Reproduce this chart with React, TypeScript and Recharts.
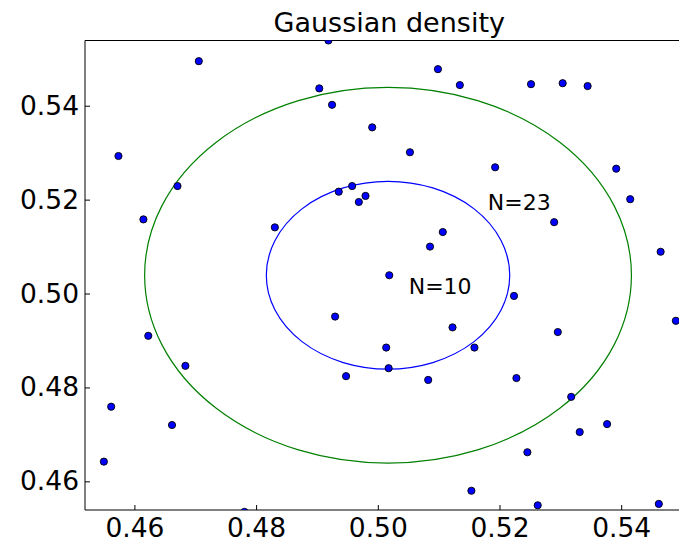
import React from 'react';
import {
  ScatterChart,
  Scatter,
  XAxis,
  YAxis,
  ReferenceArea,
  ReferenceDot,
  Label,
} from 'recharts';

// ---- data ----
const pointX = [
  0.4918, 0.4705, 0.4903, 0.4924, 0.4573, 0.467, 0.4614, 0.483, 0.4935, 0.5098,
  0.5134, 0.5251, 0.5303, 0.5344, 0.499, 0.5052, 0.5192, 0.5391, 0.5414, 0.4957,
  0.4979, 0.4968, 0.5289, 0.5106, 0.5085, 0.5464, 0.5018, 0.5223, 0.5489, 0.4929,
  0.4622, 0.5122, 0.5295, 0.5013, 0.5158, 0.5017, 0.4947, 0.5082, 0.5227, 0.4683,
  0.5317, 0.4561, 0.5376, 0.5331, 0.4661, 0.5245, 0.4549, 0.5153, 0.5262, 0.5461,
  0.478,
];
const pointY = [
  0.554, 0.5496, 0.5438, 0.5403, 0.5294, 0.523, 0.5159, 0.5142, 0.5218, 0.5479,
  0.5445, 0.5447, 0.5449, 0.5443, 0.5355, 0.5302, 0.527, 0.5267, 0.5202, 0.523,
  0.5209, 0.5196, 0.5153, 0.5132, 0.5101, 0.509, 0.504, 0.4996, 0.4943, 0.4952,
  0.4911, 0.4929, 0.4919, 0.4886, 0.4886, 0.4842, 0.4825, 0.4817, 0.4821, 0.4847,
  0.4781, 0.476, 0.4723, 0.4706, 0.4721, 0.4663, 0.4643, 0.4581, 0.455, 0.4553,
  0.4536,
];

const xTicks = [0.46, 0.48, 0.5, 0.52, 0.54];
const yTicks = [0.46, 0.48, 0.5, 0.52, 0.54];
const xDomain = [0.4518, 0.5518];
const yDomain = [0.454, 0.554];

const circleCenterX = [0.5016, 0.5016];
const circleCenterY = [0.504, 0.504];
const circleRadius = [0.02, 0.04];

const labelX = [0.505, 0.518];
const labelY = [0.5, 0.518];
const labelText = ['N=10', 'N=23'];

const titleText = 'Gaussian density';

// ---- styles ----
const FONT = '"DejaVu Sans", sans-serif';
const circleColors = ['#0000ff', '#008000'];

const points = pointX.map((x, i) => ({ x, y: pointY[i] }));

const fmt = (v: number) => v.toFixed(2);

const BottomTick = (props: any) => {
  const { x, y, payload } = props;
  return (
    <g>
      <line x1={x} y1={y} x2={x} y2={y - 5} stroke="#000" strokeWidth={1} />
      <text x={x} y={y + 27} textAnchor="middle" fontFamily={FONT} fontSize={26.5} fill="#000">
        {fmt(payload.value)}
      </text>
    </g>
  );
};

const TopTick = (props: any) => {
  const { x, y } = props;
  return <line x1={x} y1={y} x2={x} y2={y + 5} stroke="#000" strokeWidth={1} />;
};

const LeftTick = (props: any) => {
  const { x, y, payload } = props;
  return (
    <g>
      <line x1={x} y1={y} x2={x + 5} y2={y} stroke="#000" strokeWidth={1} />
      <text x={x - 6} y={y + 8.5} textAnchor="end" fontFamily={FONT} fontSize={26.5} fill="#000">
        {fmt(payload.value)}
      </text>
    </g>
  );
};

const RightTick = (props: any) => {
  const { x, y } = props;
  return <line x1={x} y1={y} x2={x - 5} y2={y} stroke="#000" strokeWidth={1} />;
};

const Dot = (props: any) => {
  const { cx, cy } = props;
  if (cx == null || cy == null) return null;
  return <circle cx={cx} cy={cy} r={3.6} fill="#0000ff" stroke="#000" strokeWidth={0.9} />;
};

export default function App() {
  return (
    <div
      style={{
        position: 'fixed',
        left: 0,
        top: 0,
        width: 679,
        height: 540,
        overflow: 'hidden',
        background: '#fff',
      }}
    >
      <ScatterChart width={700} height={540} margin={{ top: 39.5, right: 5.5, bottom: 0, left: 0 }}>
        <XAxis
          type="number"
          dataKey="x"
          domain={xDomain}
          allowDataOverflow
          ticks={xTicks}
          interval={0}
          tickSize={0}
          tickMargin={0}
          tickLine={false}
          tick={<BottomTick />}
          axisLine={{ stroke: '#000', strokeWidth: 1 }}
          height={30}
        />
        <XAxis
          xAxisId="top"
          orientation="top"
          type="number"
          domain={xDomain}
          allowDataOverflow
          ticks={xTicks}
          interval={0}
          tickSize={0}
          tickMargin={0}
          tickLine={false}
          tick={<TopTick />}
          axisLine={{ stroke: '#000', strokeWidth: 1 }}
          height={1}
        >
          <Label
            value={titleText}
            position="top"
            offset={7.5}
            fontFamily={FONT}
            fontSize={27}
            fill="#000"
          />
        </XAxis>
        <YAxis
          type="number"
          dataKey="y"
          domain={yDomain}
          allowDataOverflow
          ticks={yTicks}
          interval={0}
          tickSize={0}
          tickMargin={0}
          tickLine={false}
          tick={<LeftTick />}
          axisLine={{ stroke: '#000', strokeWidth: 1 }}
          width={85}
        />
        <YAxis
          yAxisId="right"
          orientation="right"
          type="number"
          domain={yDomain}
          allowDataOverflow
          ticks={yTicks}
          interval={0}
          tickSize={0}
          tickMargin={0}
          tickLine={false}
          tick={<RightTick />}
          axisLine={{ stroke: '#000', strokeWidth: 1 }}
          width={1}
        />
        {circleRadius.map((r, i) => (
          <ReferenceArea
            key={'c' + i}
            x1={circleCenterX[i] - r}
            x2={circleCenterX[i] + r}
            y1={circleCenterY[i] - r}
            y2={circleCenterY[i] + r}
            ifOverflow="visible"
            shape={(p: any) => (
              <ellipse
                cx={p.x + p.width / 2}
                cy={p.y + p.height / 2}
                rx={Math.abs(p.width) / 2}
                ry={Math.abs(p.height) / 2}
                fill="none"
                stroke={circleColors[i]}
                strokeWidth={1.2}
              />
            )}
          />
        ))}
        {labelText.map((t, i) => (
          <ReferenceDot
            key={'l' + i}
            x={labelX[i]}
            y={labelY[i]}
            r={0}
            ifOverflow="visible"
            shape={(p: any) => (
              <text x={p.cx} y={p.cy} fontFamily={FONT} fontSize={22} fill="#000" textAnchor="start">
                {t}
              </text>
            )}
          />
        ))}
        <Scatter data={points} shape={<Dot />} isAnimationActive={false} />
      </ScatterChart>
    </div>
  );
}
